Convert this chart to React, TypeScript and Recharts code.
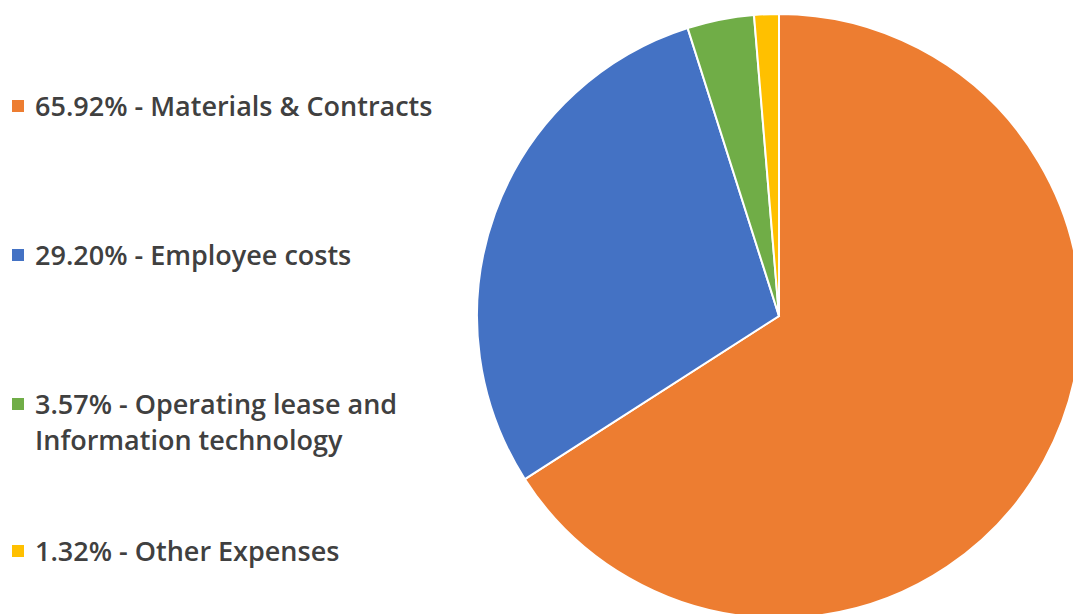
import { PieChart, Pie, Cell, Legend } from "recharts"

const CATEGORIES = ["Materials & Contracts", "Employee costs", "Operating lease and Information technology", "Other Expenses"]
const SHARES = [65.92, 29.2, 3.57, 1.32]
const LABELS = [
    ["65.92% - Materials & Contracts"],
    ["29.20% - Employee costs"],
    ["3.57% - Operating lease and", "Information technology"],
    ["1.32% - Other Expenses"],
]
const COLORS = ["#ED7D31", "#4472C4", "#70AD47", "#FFC000"]

const data = CATEGORIES.map((name, i) => ({ name, value: SHARES[i] }))

// vertical centres of each legend entry's first line
const ROW_Y = [106, 255, 404, 551]
const LEGEND_W = 460

function renderLegend() {
    return (
        <div style={{ position: "relative", width: LEGEND_W, height: 614 }}>
            {LABELS.map((lines, i) => (
                <div key={i} style={{ position: "absolute", left: 0, top: ROW_Y[i] - 18 }}>
                    <span
                        style={{
                            position: "absolute",
                            left: 12,
                            top: 12,
                            width: 12,
                            height: 12,
                            background: COLORS[i],
                        }}
                    />
                    <div
                        style={{
                            marginLeft: 35,
                            fontFamily: "'Open Sans', sans-serif",
                            fontWeight: 600,
                            fontSize: 27,
                            lineHeight: "36px",
                            color: "#404040",
                            whiteSpace: "nowrap",
                            textAlign: "left",
                        }}
                    >
                        {lines.map((l, j) => (
                            <div key={j}>{l}</div>
                        ))}
                    </div>
                </div>
            ))}
        </div>
    )
}

export default function App() {
    return (
        <div style={{ position: "absolute", left: 0, top: 0, width: 1073, height: 614, background: "#fff", overflow: "hidden" }}>
            <PieChart width={1073} height={614} margin={{ top: 0, right: 0, bottom: 0, left: 0 }}>
                <Pie
                    data={data}
                    dataKey="value"
                    nameKey="name"
                    cx={779 - LEGEND_W}
                    cy={316}
                    outerRadius={302}
                    startAngle={90}
                    endAngle={-270}
                    stroke="#ffffff"
                    strokeWidth={2}
                    isAnimationActive={false}
                >
                    {data.map((_, i) => (
                        <Cell key={`cell-${i}`} fill={COLORS[i]} />
                    ))}
                </Pie>
                <Legend
                    content={renderLegend}
                    layout="vertical"
                    verticalAlign="top"
                    align="left"
                    wrapperStyle={{ left: 0, top: 0, width: LEGEND_W, height: 614 }}
                />
            </PieChart>
        </div>
    )
}
